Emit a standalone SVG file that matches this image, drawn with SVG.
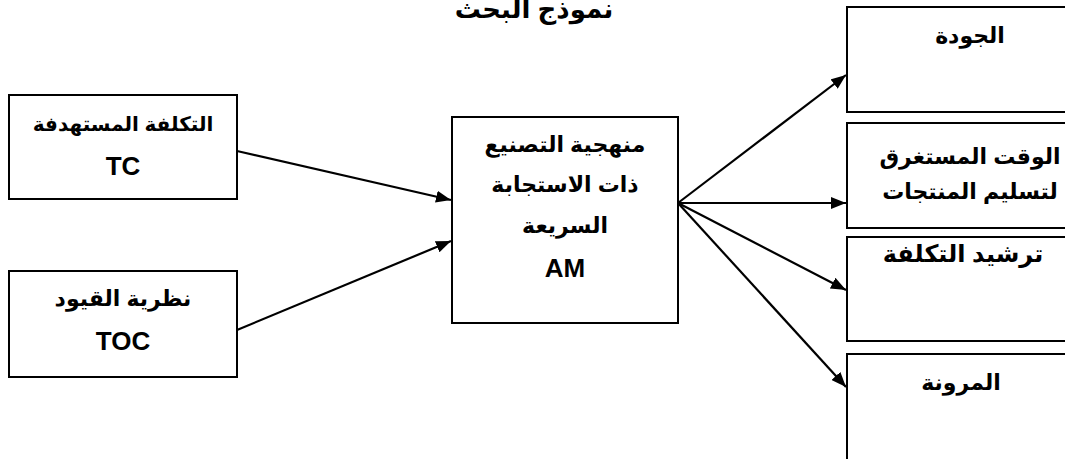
<svg xmlns="http://www.w3.org/2000/svg" width="1065" height="459" viewBox="0 0 1065 459">
<style>
.box{fill:#fff;stroke:#000;stroke-width:2}
.t{font-family:"Liberation Sans","DejaVu Sans",Arial,sans-serif;font-weight:bold;font-size:22px;text-anchor:middle;fill:#000}
.en{font-size:26px}
.conn line{stroke:#000;stroke-width:2.2;fill:none}
</style>
<defs>
<marker id="ah" viewBox="0 0 15 12" refX="15" refY="6" markerWidth="15" markerHeight="12" markerUnits="userSpaceOnUse" orient="auto">
<path d="M0,0 L15,6 L0,12 z" fill="#000"/>
</marker>
</defs>
<text class="t" x="534" y="18" style="font-size:26px" direction="rtl">نموذج البحث</text>
<g id="n-tc">
<rect class="box" x="9" y="95" width="228" height="104"/>
<text class="t" x="123" y="131" style="font-size:20px" direction="rtl">التكلفة المستهدفة</text>
<text class="t en" x="123" y="175">TC</text>
</g>
<g id="n-toc">
<rect class="box" x="9" y="271" width="228" height="106"/>
<text class="t" x="123" y="306" direction="rtl">نظرية القيود</text>
<text class="t en" x="123" y="350">TOC</text>
</g>
<g id="n-am">
<rect class="box" x="452" y="117" width="226" height="206"/>
<text class="t" x="565" y="152" direction="rtl">منهجية التصنيع</text>
<text class="t" x="565" y="192" direction="rtl">ذات الاستجابة</text>
<text class="t" x="565" y="233" direction="rtl">السريعة</text>
<text class="t en" x="565" y="277">AM</text>
</g>
<g id="n-quality">
<rect class="box" x="847" y="7" width="250" height="105"/>
<text class="t" x="970" y="43" direction="rtl">الجودة</text>
</g>
<g id="n-time">
<rect class="box" x="847" y="123" width="250" height="105"/>
<text class="t" x="970" y="164" direction="rtl">الوقت المستغرق</text>
<text class="t" x="970" y="199" direction="rtl">لتسليم المنتجات</text>
</g>
<g id="n-cost">
<rect class="box" x="847" y="237" width="250" height="104"/>
<text class="t" x="963" y="262" style="font-size:24px" direction="rtl">ترشيد التكلفة</text>
</g>
<g id="n-flex">
<rect class="box" x="847" y="354" width="250" height="120"/>
<text class="t" x="961" y="390" direction="rtl">المرونة</text>
</g>
<g class="conn">
<line x1="237" y1="151" x2="451" y2="200" marker-end="url(#ah)"/>
<line x1="237" y1="330" x2="451" y2="241" marker-end="url(#ah)"/>
<line x1="678" y1="203" x2="846" y2="75" marker-end="url(#ah)"/>
<line x1="678" y1="203" x2="846" y2="203" marker-end="url(#ah)"/>
<line x1="678" y1="203" x2="846" y2="290" marker-end="url(#ah)"/>
<line x1="678" y1="203" x2="846" y2="387" marker-end="url(#ah)"/>
</g>
</svg>
